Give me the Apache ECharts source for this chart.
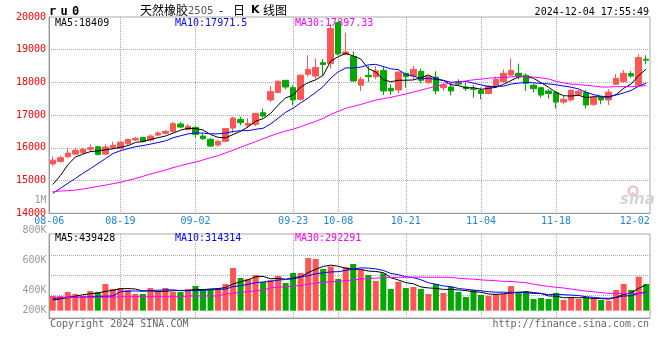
<!DOCTYPE html>
<html><head><meta charset="utf-8">
<script src="https://cdn.jsdelivr.net/npm/echarts@6/dist/echarts.min.js"></script>
<style>html,body{margin:0;padding:0;background:#fff}#c{width:660px;height:360px}</style>
</head><body><div id="c"></div>
<script>
// ---------- data ----------
const dates = ['08-06','08-07','08-08','08-09','08-12','08-13','08-14','08-15','08-16','08-19',
'08-20','08-21','08-22','08-23','08-26','08-27','08-28','08-29','08-30','09-02',
'09-03','09-04','09-05','09-06','09-09','09-10','09-11','09-12','09-13','09-18',
'09-19','09-20','09-23','09-24','09-25','09-26','09-27','09-30','10-08','10-09',
'10-10','10-11','10-14','10-15','10-16','10-17','10-18','10-21','10-22','10-23',
'10-24','10-25','10-28','10-29','10-30','10-31','11-01','11-04','11-05','11-06',
'11-07','11-08','11-11','11-12','11-13','11-14','11-15','11-18','11-19','11-20',
'11-21','11-22','11-25','11-26','11-27','11-28','11-29','12-02','12-03','12-04'];
const opens = [15510,15585,15730,15810,15855,15955,16035,15810,16015,15985,
16130,16240,16320,16240,16390,16445,16505,16730,16565,16625,
16360,16260,16085,16200,16605,16870,16690,16720,17075,17465,
17690,18065,17840,17485,18250,18195,18605,18575,19830,18860,
18790,17915,18220,18175,18370,17820,17770,18280,18195,18340,
17995,18165,17840,17860,18015,17860,17810,17760,17660,17875,
18025,18230,18280,18220,17915,17840,17740,17690,17400,17465,
17635,17690,17330,17535,17465,17945,18025,18270,17915,18710];
const closes = [15625,15700,15840,15925,15955,16005,15800,16025,16075,16175,
16260,16290,16190,16360,16455,16505,16740,16635,16660,16415,
16280,16055,16200,16590,16910,16770,16750,17055,16975,17720,
18035,17860,17465,18220,18400,18455,18545,19650,18870,18930,
18045,18095,18175,18355,17740,17740,18320,18180,18400,18065,
18180,17740,17915,17740,17950,17810,17790,17660,17890,18095,
18280,18370,18195,17975,17810,17615,17660,17400,17485,17760,
17730,17310,17535,17465,17705,18125,18280,18195,18760,18680];
const lows = [15445,15545,15690,15780,15810,15870,15770,15780,15955,15955,
16075,16210,16160,16190,16360,16405,16465,16605,16525,16310,
16240,16035,16035,16175,16465,16690,16620,16665,16925,17400,
17670,17790,17300,17445,18180,18095,18220,18425,18830,18830,
18025,17740,18015,18095,17615,17615,17670,17840,18075,17975,
17945,17635,17740,17605,17890,17740,17535,17485,17635,17850,
17995,18195,18095,17740,17690,17535,17505,17200,17330,17415,
17585,17200,17280,17330,17310,17920,17995,18150,17890,18555];
const highs = [15740,15760,15975,16005,15995,16105,16055,16105,16190,16210,
16280,16330,16330,16415,16505,16545,16790,16790,16730,16665,
16435,16300,16240,16590,16955,16955,16910,17055,17200,17890,
18065,18065,17915,18250,18830,18730,18710,19780,19850,19525,
18945,18175,18505,18495,18505,17945,18320,18300,18505,18425,
18195,18340,17995,17995,18095,17995,17915,17840,17915,18180,
18400,18740,18575,18280,17965,17860,17790,17740,17585,17790,
17770,17770,17605,17585,17790,18250,18380,18350,18860,18830];
const volumes = [250000,250000,318000,284000,250000,335000,318000,454000,369000,386000,
352000,284000,284000,386000,318000,386000,318000,318000,369000,420000,
369000,369000,352000,454000,726000,556000,539000,607000,488000,522000,
590000,471000,641000,641000,896000,879000,709000,752000,539000,738000,
794000,692000,607000,505000,636000,369000,493000,386000,403000,369000,
284000,454000,301000,403000,318000,233000,352000,267000,250000,284000,
284000,420000,318000,318000,199000,216000,199000,301000,182000,216000,
199000,216000,216000,182000,170000,352000,454000,352000,578000,454000];
// moving-average values before enough shown days exist
const ma5Head  = [14880,15150,15480,15720];
const ma10Head = [14610,14760,14915,15065,15220,15365,15515,15670,15825];
const ma30Head = [14660,14680,14690,14710,14740,14780,14820,14860,14905,14945,
15005,15065,15130,15200,15260,15320,15395,15455,15515,15565,
15630,15700,15760,15845,15930,16020,16105,16190,16280];
const volMa5Head  = [182000,199000,228000,245000];
const volMa10Head = [211000,216000,221000,226000,231000,236000,241000,246000,250000];
const volMa30Head = [228000,228000,228000,228000,228000,228000,228000,228000,228000,
238000,238000,238000,238000,238000,238000,238000,238000,238000,
250000,250000,250000,250000,250000,284000,296000,313000,323000,335000,347000];
const maLegend = {ma5:'MA5:18409', ma10:'MA10:17971.5', ma30:'MA30:17897.33'};
const volMaLegend = {ma5:'MA5:439428', ma10:'MA10:314314', ma30:'MA30:292291'};
const volTickLabels = ['800K','600K','400K','200K'];
const xLabelIndex = [0,9,19,32,38,47,57,67,77];
const xGridIndex = [9,19,32,38,47,57,67];
const titleText = {code:'ru0', name:'天然橡胶', contract:'2505', kind:'线图', time:'2024-12-04 17:55:49'};

// ---------- helpers ----------
function movingAvg(vals, n, head) {
  return vals.map((v, i) => {
    if (i < n - 1) return head[i];
    let s = 0; for (let k = i - n + 1; k <= i; k++) s += vals[k];
    return +(s / n).toFixed(2);
  });
}
const UP = '#ff5555', DOWN = '#00a800';
const MONO = '"DejaVu Sans Mono", "Liberation Mono", monospace';
const L = 49, W = 601;
const chart = echarts.init(document.getElementById('c'), null, {renderer: 'canvas'});

const kData = dates.map((d, i) => [opens[i], closes[i], lows[i], highs[i]]);
const volData = volumes.map((v, i) => ({value: v, itemStyle: {color: closes[i] >= opens[i] ? UP : DOWN}}));

function txt(text, x, y, fill, font, align) {
  return {type: 'text', z: 0, silent: true,
    style: {text, x, y, fill, font, textAlign: align || 'left', textVerticalAlign: 'middle'}};
}
const volTickY = [230.5, 260.5, 290, 310.5];
const codeX = [49, 60.5, 72];
const graphics = [
  txt(titleText.name, 140, 10, '#000', '12px "Noto Sans CJK SC"'),
  txt(titleText.contract, 188, 11, '#555', '10px "DejaVu Sans"'),
  txt('-', 219, 10, '#000', '12px "Noto Sans CJK SC"'),
  txt('日', 233, 10, '#000', '12px "Noto Sans CJK SC"'),
  txt('K', 251, 10, '#000', 'bold 11px "DejaVu Sans"'),
  txt(titleText.kind, 263, 10, '#000', '12px "Noto Sans CJK SC"'),
  txt(titleText.time, 649, 12.5, '#000', '10px ' + MONO, 'right'),
  txt(maLegend.ma5, 55, 23, '#000', '10px ' + MONO),
  txt(maLegend.ma10, 175, 23, '#0000ff', '10px ' + MONO),
  txt(maLegend.ma30, 295, 23, '#ff00ff', '10px ' + MONO),
  txt(volMaLegend.ma5, 55, 238.5, '#000', '10px ' + MONO),
  txt(volMaLegend.ma10, 175, 238.5, '#0000ff', '10px ' + MONO),
  txt(volMaLegend.ma30, 295, 238.5, '#ff00ff', '10px ' + MONO),
  txt('1M', 46.5, 200, '#999', '10px ' + MONO, 'right'),
  txt('Copyright 2024 SINA.COM', 50, 324, '#666', '10px ' + MONO),
  txt('http://finance.sina.com.cn', 649, 324, '#666', '10px ' + MONO, 'right'),
  {type: 'circle', z: 0, silent: true, shape: {cx: 633, cy: 191, r: 4.5},
    style: {fill: 'none', stroke: '#f2b8b8', lineWidth: 2}},
  txt('sina', 620, 200, '#d4d4d4', 'italic bold 15px "DejaVu Sans"')
].concat(titleText.code.split('').map((ch, k) => txt(ch, codeX[k], 12, '#000', 'bold 12px ' + MONO)))
 .concat(volTickLabels.map((t, k) => txt(t, 46.5, volTickY[k], '#999', '10px ' + MONO, 'right')));

const dotted = {type: 'dotted', color: '#aaa', width: 1};
const catAxisBase = {type: 'category', data: dates, boundaryGap: true,
  axisTick: {show: false},
  axisLine: {onZero: false, lineStyle: {color: '#999'}},
  splitLine: {show: true, alignWithLabel: true, interval: (i) => xGridIndex.includes(i), lineStyle: dotted}};

const option = {
  animation: false,
  backgroundColor: '#fff',
  grid: [
    {left: L, width: W, top: 17, height: 196.3, show: true, borderColor: '#aaa', borderWidth: 1},
    {left: L, width: W, top: 234, height: 84, show: true, borderColor: '#aaa', borderWidth: 1},
    {left: L, width: W, top: 235, height: 80, show: false}
  ],
  xAxis: [
    Object.assign({}, catAxisBase, {gridIndex: 0,
      axisLabel: {show: true, interval: (i) => xLabelIndex.includes(i), margin: 3,
        color: '#1e87d8', fontSize: 10, fontFamily: MONO,
        formatter: (v, i) => i === 0 ? '{l|' + v + '}' : (i === 77 ? '{r|' + v + '}' : v),
        rich: {l: {padding: [0, 7, 0, 0], color: '#1e87d8', fontSize: 10, fontFamily: MONO},
               r: {padding: [0, 0, 0, 7], color: '#1e87d8', fontSize: 10, fontFamily: MONO}}}}),
    Object.assign({}, catAxisBase, {gridIndex: 1, axisLabel: {show: false}}),
    {type: 'category', data: dates, gridIndex: 2, show: false}
  ],
  yAxis: [
    {type: 'value', gridIndex: 0, min: 14000, max: 20000, interval: 1000, scale: true,
      axisLine: {show: true, lineStyle: {color: '#999'}}, axisTick: {show: false},
      axisLabel: {color: '#ff0000', fontSize: 10, fontFamily: MONO, margin: 3, formatter: (v) => String(v)},
      splitLine: {show: true, showMinLine: false, showMaxLine: false, lineStyle: dotted}},
    {type: 'value', gridIndex: 1, min: -125000, max: 1305000,
      axisLine: {show: true, lineStyle: {color: '#999'}}, axisTick: {show: false},
      axisLabel: {show: false}, splitLine: {show: false}},
    {type: 'value', gridIndex: 2, min: 0, max: 80, interval: 20,
      axisLine: {show: false}, axisTick: {show: false}, axisLabel: {show: false},
      splitLine: {show: true, showMinLine: false, showMaxLine: false, lineStyle: dotted}}
  ],
  graphic: {elements: graphics},
  series: [
    {type: 'candlestick', xAxisIndex: 0, yAxisIndex: 0, data: kData, barWidth: 6, z: 3,
      itemStyle: {color: UP, color0: DOWN, borderColor: UP, borderColor0: DOWN, borderWidth: 1}},
    {type: 'line', xAxisIndex: 0, yAxisIndex: 0, data: movingAvg(closes, 5, ma5Head), symbol: 'none', z: 4,
      lineStyle: {color: '#000', width: 1}},
    {type: 'line', xAxisIndex: 0, yAxisIndex: 0, data: movingAvg(closes, 10, ma10Head), symbol: 'none', z: 4,
      lineStyle: {color: '#0000ff', width: 1}},
    {type: 'line', xAxisIndex: 0, yAxisIndex: 0, data: movingAvg(closes, 30, ma30Head), symbol: 'none', z: 4,
      lineStyle: {color: '#ff00ff', width: 1}},
    {type: 'bar', xAxisIndex: 1, yAxisIndex: 1, data: volData, barWidth: 6, z: 3},
    {type: 'line', xAxisIndex: 1, yAxisIndex: 1, data: movingAvg(volumes, 5, volMa5Head), symbol: 'none', z: 4,
      lineStyle: {color: '#000', width: 1}},
    {type: 'line', xAxisIndex: 1, yAxisIndex: 1, data: movingAvg(volumes, 10, volMa10Head), symbol: 'none', z: 4,
      lineStyle: {color: '#0000ff', width: 1}},
    {type: 'line', xAxisIndex: 1, yAxisIndex: 1, data: movingAvg(volumes, 30, volMa30Head), symbol: 'none', z: 4,
      lineStyle: {color: '#ff00ff', width: 1}}
  ]
};
chart.setOption(option);
</script></body></html>
